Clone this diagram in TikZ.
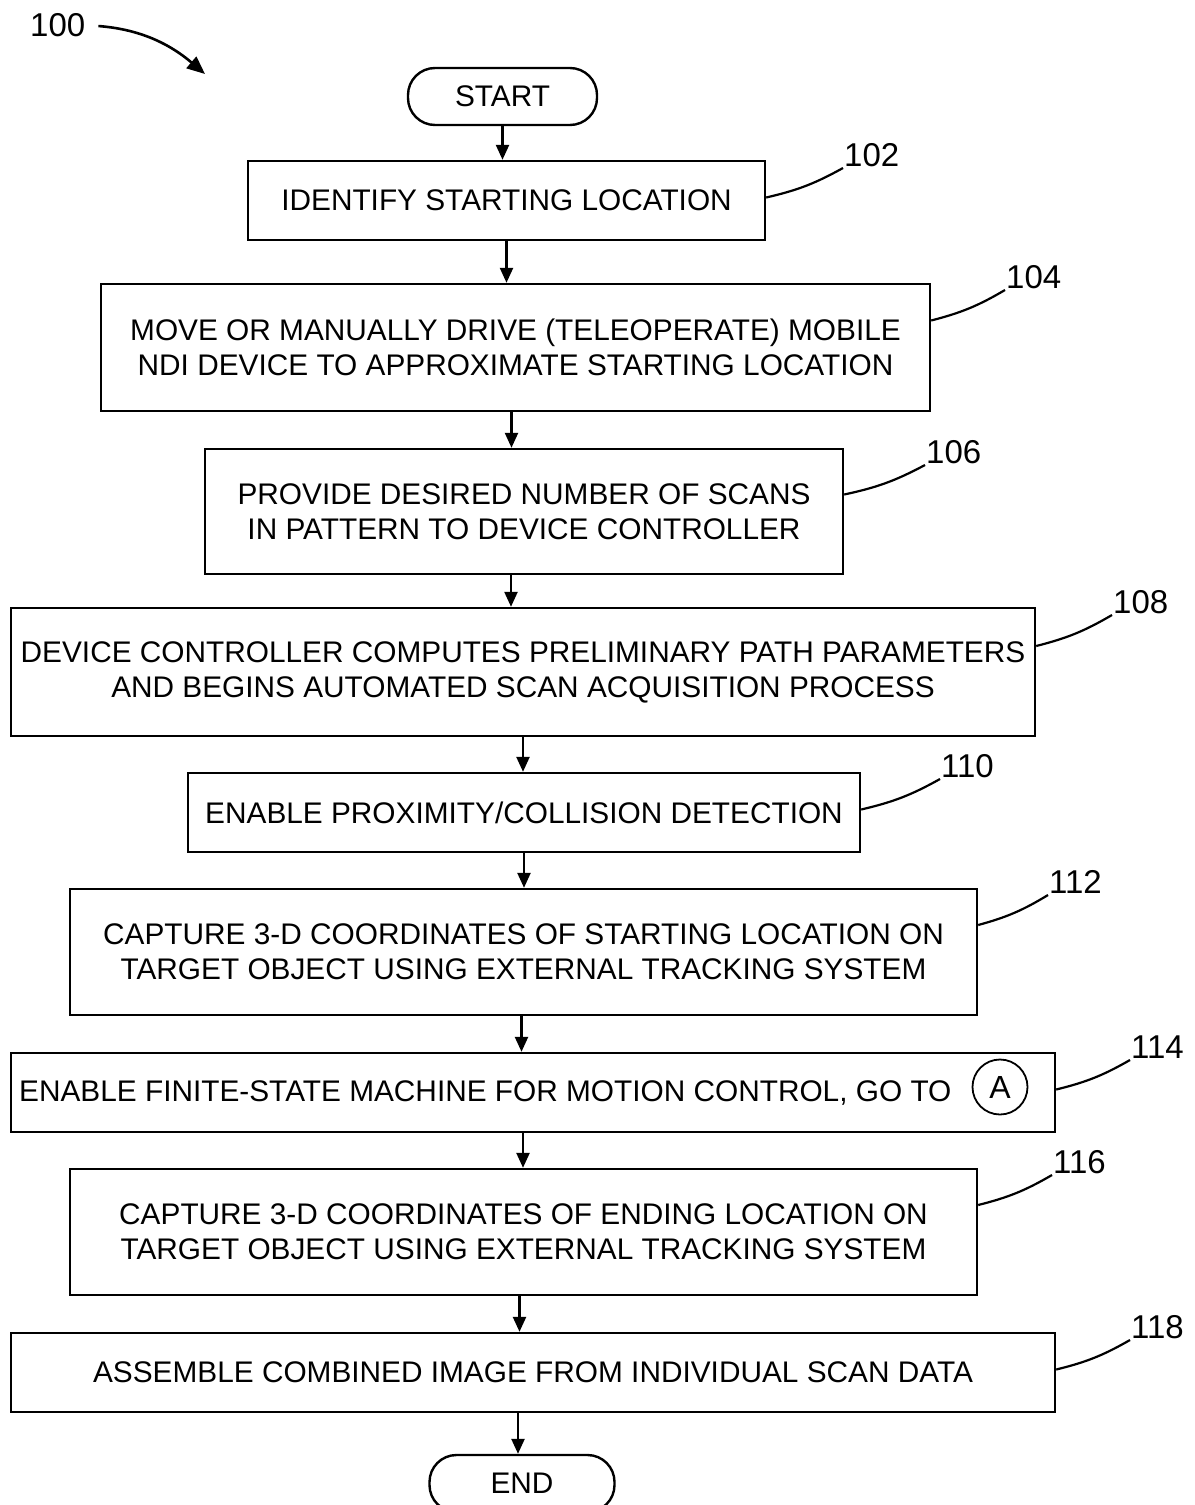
\documentclass[tikz,border=0pt]{standalone}
\usepackage{fontspec}
\setmainfont{Liberation Sans}
\usetikzlibrary{arrows.meta}

\begin{document}
\begin{tikzpicture}[
  x=1bp,y=-1bp,
  font=\fontsize{29.8bp}{35bp}\selectfont,
  stepbox/.style={draw,line width=2.4bp,align=center,inner sep=0pt},
  terminal/.style={draw,line width=2.4bp,rounded corners=27bp,minimum width=189bp,minimum height=57bp},
  refnum/.style={anchor=south west,inner sep=1bp,font=\fontsize{33bp}{38bp}\selectfont},
  flow/.style={-{Triangle[length=15bp,width=13bp]},line width=2.4bp},
  leader/.style={line width=2.2bp,bend right=8}
]
  \useasboundingbox (0,0) rectangle (1194,1505);

  \node[refnum] (l100) at (29,38) {100};
  \coordinate (c100) at (205,74);
  \draw[line width=2.6bp,-{Triangle[length=18bp,width=15bp]},shorten <=12bp] (l100.east) to[bend left=18] (c100);

  \node[terminal] (start) at (502.5,96.5) {START};

  \node[stepbox,minimum width=517bp,minimum height=79bp] (s102) at (506.5,200.5)
    {IDENTIFY STARTING LOCATION};
  \node[stepbox,minimum width=829bp,minimum height=127bp] (s104) at (515.5,347.5)
    {MOVE OR MANUALLY DRIVE (TELEOPERATE) MOBILE\\NDI DEVICE TO APPROXIMATE STARTING LOCATION};
  \node[stepbox,minimum width=638bp,minimum height=125bp] (s106) at (524,511.5)
    {PROVIDE DESIRED NUMBER OF SCANS\\IN PATTERN TO DEVICE CONTROLLER};
  \node[stepbox,minimum width=1024bp,minimum height=128bp] (s108) at (523,672)
    {DEVICE CONTROLLER COMPUTES PRELIMINARY PATH PARAMETERS\\AND BEGINS AUTOMATED SCAN ACQUISITION PROCESS};
  \node[stepbox,minimum width=672bp,minimum height=79bp] (s110) at (524,812.5)
    {ENABLE PROXIMITY/COLLISION DETECTION};
  \node[stepbox,minimum width=907bp,minimum height=126bp] (s112) at (523.5,952)
    {CAPTURE 3-D COORDINATES OF STARTING LOCATION ON\\TARGET OBJECT USING EXTERNAL TRACKING SYSTEM};
  \node[stepbox,minimum width=1044bp,minimum height=79bp] (s114) at (533,1092.5) {};
  \node[anchor=base west,inner sep=0pt] (s114text) at (19,1101)
    {ENABLE FINITE-STATE MACHINE FOR MOTION CONTROL, GO TO};
  \node[draw,circle,line width=1.8bp,minimum size=55bp,inner sep=0pt,font=\fontsize{32bp}{38bp}\selectfont] (connA) at (1000,1087) {A};
  \node[stepbox,minimum width=907bp,minimum height=126bp] (s116) at (523.5,1232)
    {CAPTURE 3-D COORDINATES OF ENDING LOCATION ON\\TARGET OBJECT USING EXTERNAL TRACKING SYSTEM};
  \node[stepbox,minimum width=1044bp,minimum height=79bp] (s118) at (533,1372.5)
    {ASSEMBLE COMBINED IMAGE FROM INDIVIDUAL SCAN DATA};

  \node[terminal,minimum width=185bp] (end) at (522,1483.5) {END};

  % flow arrows
  \draw[flow] (start.south) -- (start.south |- s102.north);
  \draw[flow] (s102.south) -- (s102.south |- s104.north);
  \draw[flow] ([xshift=-4bp]s104.south) -- ([xshift=-4bp]s104.south |- s106.north);
  \draw[flow] ([xshift=-13bp]s106.south) -- ([xshift=-13bp]s106.south |- s108.north);
  \draw[flow] (s108.south) -- (s108.south |- s110.north);
  \draw[flow] (s110.south) -- (s110.south |- s112.north);
  \draw[flow] ([xshift=-2bp]s112.south) -- ([xshift=-2bp]s112.south |- s114.north);
  \draw[flow] ([xshift=-10bp]s114.south) -- ([xshift=-10bp]s114.south |- s116.north);
  \draw[flow] ([xshift=-4bp]s116.south) -- ([xshift=-4bp]s116.south |- s118.north);
  \draw[flow] ([xshift=-15bp]s118.south) -- ([xshift=-15bp]s118.south |- end.north);

  % reference numerals
  \node[refnum] (l102) at (843,168) {102};
  \node[refnum] (l104) at (1005,290) {104};
  \node[refnum] (l106) at (925,465) {106};
  \node[refnum] (l108) at (1112,615) {108};
  \node[refnum] (l110) at (940,779) {110};
  \node[refnum] (l112) at (1048,895) {112};
  \node[refnum] (l114) at (1130,1060) {114};
  \node[refnum] (l116) at (1052,1175) {116};
  \node[refnum] (l118) at (1130,1340) {118};

  \draw[leader] ([yshift=3bp]s102.east) to (l102.south west);
  \draw[leader] ([yshift=27bp]s104.east) to (l104.south west);
  \draw[leader] ([yshift=17bp]s106.east) to (l106.south west);
  \draw[leader] ([yshift=26bp]s108.east) to (l108.south west);
  \draw[leader] ([yshift=3bp]s110.east) to (l110.south west);
  \draw[leader] ([yshift=27bp]s112.east) to (l112.south west);
  \draw[leader] ([yshift=3bp]s114.east) to (l114.south west);
  \draw[leader] ([yshift=27bp]s116.east) to (l116.south west);
  \draw[leader] ([yshift=3bp]s118.east) to (l118.south west);
\end{tikzpicture}
\end{document}
